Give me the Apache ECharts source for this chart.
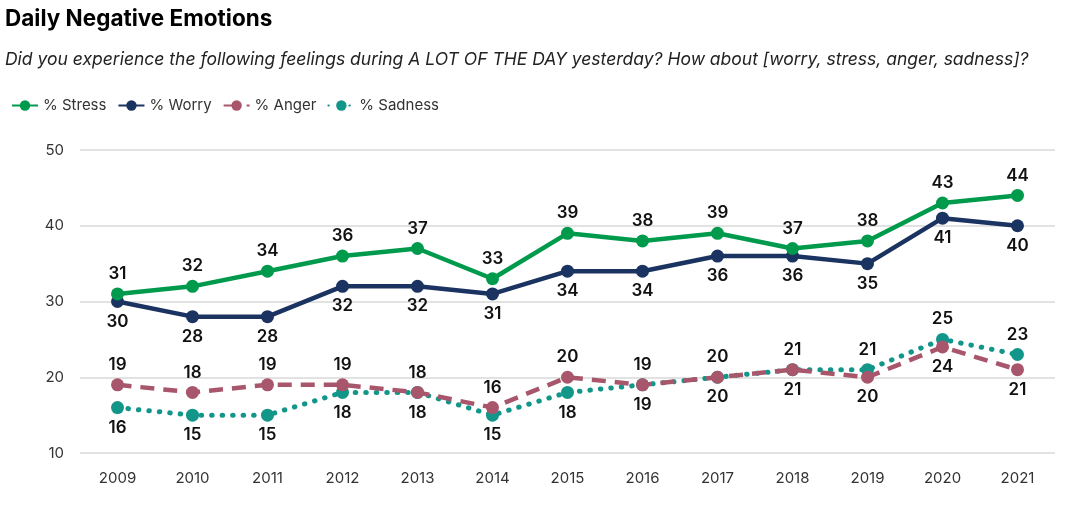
<!DOCTYPE html>
<html><head><meta charset="utf-8">
<script src="https://cdn.jsdelivr.net/npm/echarts@6/dist/echarts.min.js"></script>
<style>html,body{margin:0;padding:0;background:#fff}#c{width:1085px;height:516px}</style>
</head><body><div id="c"></div>
<script>
var years = ['2009','2010','2011','2012','2013','2014','2015','2016','2017','2018','2019','2020','2021'];
var stress = [31,32,34,36,37,33,39,38,39,37,38,43,44];
var worry = [30,28,28,32,32,31,34,34,36,36,35,41,40];
var anger = [19,18,19,19,18,16,20,19,20,21,20,24,21];
var sadness = [16,15,15,18,18,15,18,19,20,21,21,25,23];
var angerAbove = [1,1,1,1,1,1,1,1,1,1,0,0,0];
var yTicks = [10,20,30,40,50];

var font = 'Inter, "Liberation Sans", sans-serif';
var chart = echarts.init(document.getElementById('c'));
function lbl(pos){return {show:true,position:pos,distance:5,fontSize:17,fontWeight:600,color:'#111',fontFamily:font};}
chart.setOption({
  animation:false,
  title:[
    {text:'Daily Negative Emotions',left:0,top:3,textStyle:{fontSize:22.5,fontWeight:'bold',color:'#000',fontFamily:font}},
    {text:'Did you experience the following feelings during A LOT OF THE DAY yesterday? How about [worry, stress, anger, sadness]?',left:0,top:46,textStyle:{fontSize:17.5,fontWeight:'normal',fontStyle:'italic',color:'#222',fontFamily:font}}
  ],
  legend:{left:6,top:93,itemWidth:26,itemHeight:13,itemGap:11,textStyle:{fontSize:15,color:'#333',fontFamily:font},
    data:['% Stress','% Worry','% Anger','% Sadness']},
  grid:{left:80,right:30,top:150,bottom:63},
  xAxis:{type:'category',data:years,boundaryGap:true,axisLine:{show:false},axisTick:{show:false},
    axisLabel:{fontSize:15,color:'#333',margin:18,fontFamily:font}},
  yAxis:{type:'value',min:10,max:50,interval:10,axisLine:{show:false},axisTick:{show:false},
    splitLine:{lineStyle:{color:'#d9d9d9',width:1.5}},
    axisLabel:{fontSize:15,color:'#333',margin:16,fontFamily:font,formatter:function(v){return yTicks.indexOf(v)>=0?String(v):'';}}},
  series:[
    {name:'% Stress',type:'line',data:stress,symbol:'circle',symbolSize:13,z:4,
      itemStyle:{color:'#009a4c'},lineStyle:{width:4.5,color:'#009a4c'},label:lbl('top')},
    {name:'% Worry',type:'line',data:worry,symbol:'circle',symbolSize:13,z:3,
      itemStyle:{color:'#1b3360'},lineStyle:{width:4.5,color:'#1b3360'},label:lbl('bottom')},
    {name:'% Anger',type:'line',symbol:'circle',symbolSize:13,z:2,
      data:anger.map(function(v,i){return {value:v,label:lbl(angerAbove[i]?'top':'bottom')};}),
      itemStyle:{color:'#a8566b'},lineStyle:{width:4.5,color:'#a8566b',type:[14,9]},label:lbl('top')},
    {name:'% Sadness',type:'line',symbol:'circle',symbolSize:13,z:1,
      data:sadness.map(function(v,i){return {value:v,label:lbl(angerAbove[i]?'bottom':'top')};}),
      itemStyle:{color:'#12968a'},lineStyle:{width:5,color:'#12968a',type:[0.5,10],cap:'round'},label:lbl('bottom')}
  ]
});
</script></body></html>
